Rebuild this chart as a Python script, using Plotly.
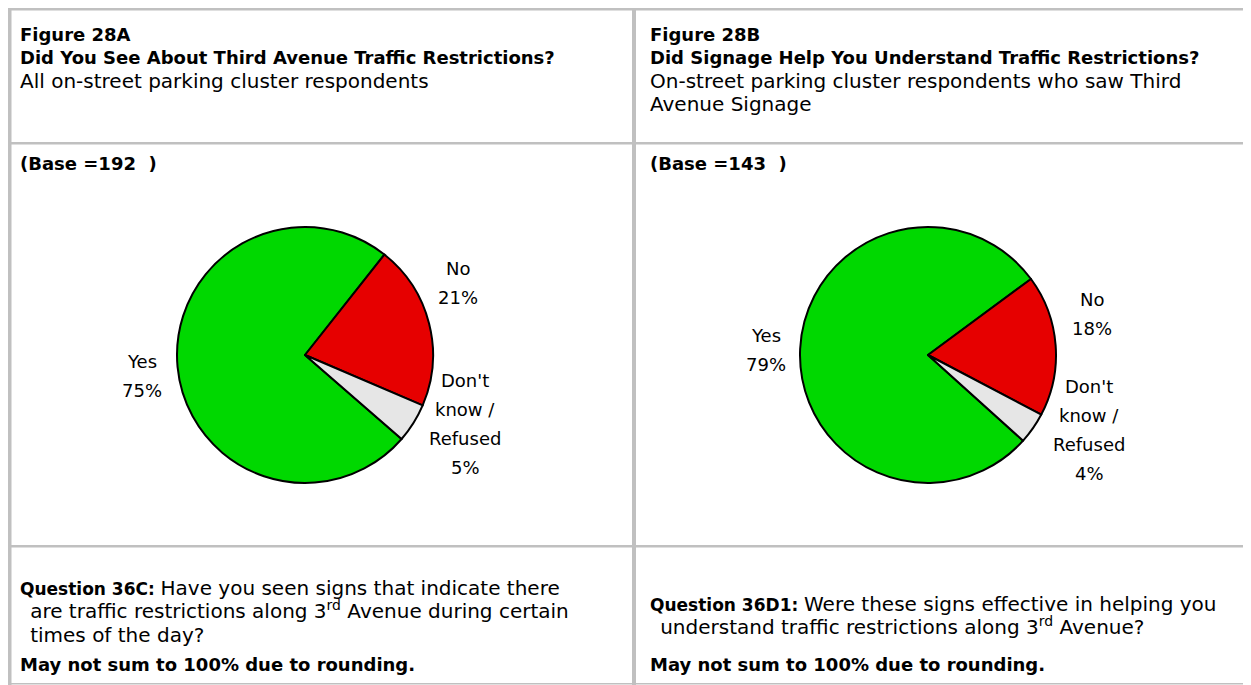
import plotly.graph_objects as go

# page is rendered with an 8px body margin -> figure is offset by 8px
OFF = 8
W, H = 1243, 677
FONT = "DejaVu Sans"

# ---- data ----
categories = ["Yes", "No", "Don't know / Refused"]
label_lines = [["Yes"], ["No"], ["Don't", "know /", "Refused"]]
values_a = [75, 21, 5]
values_b = [79, 18, 4]
base_a = 192
base_b = 143
slice_colors = ["#00d800", "#e60000", "#e6e6e6"]

title_a = ["Figure 28A", "Did You See About Third Avenue Traffic Restrictions?"]
sub_a = ["All on-street parking cluster respondents"]
title_b = ["Figure 28B", "Did Signage Help You Understand Traffic Restrictions?"]
sub_b = ["On-street parking cluster respondents who saw Third", "Avenue Signage"]

q_a_label = "Question 36C:"
q_a_lines = ["Have you seen signs that indicate there",
             "are traffic restrictions along 3<sup>rd</sup> Avenue during certain",
             "times of the day?"]
q_b_label = "Question 36D1:"
q_b_lines = ["Were these signs effective in helping you",
             "understand traffic restrictions along 3<sup>rd</sup> Avenue?"]
note = "May not sum to 100% due to rounding."

# ---- layout (page pixel positions) ----
pie_a = dict(cx=305, cy=355, r=128, rot=131,
             lab=[(142, 361), (458, 268), (465, 380)])
pie_b = dict(cx=928, cy=355, r=128, rot=132,
             lab=[(766, 335), (1092, 299), (1089, 386)])
LAB_SP = 29
REG, BOLD, LABS, QBOLD = 20, 18, 18, 17
BLOCK = 18  # base size of multi-line blocks -> line spacing 1.3*18


def fx(x):
    return (x - OFF) / W


def fy(y):
    return 1 - (y - OFF) / H


fig = go.Figure()
ann = []


def txt(x, y, s, size=REG, anchor="left"):
    ann.append(dict(x=fx(x), y=fy(y), xref="paper", yref="paper",
                    text=s, showarrow=False, xanchor=anchor, yanchor="middle",
                    align=anchor, font=dict(family=FONT, size=size, color="black")))


def span(s, size):
    return "<span style='font-size:%gpx'>%s</span>" % (size, s)


def add_pie(values, p):
    cx, cy, r = p["cx"], p["cy"], p["r"]
    fig.add_trace(go.Pie(
        labels=categories, values=values, textinfo="none",
        sort=False, direction="clockwise", rotation=p["rot"],
        marker=dict(colors=slice_colors, line=dict(color="black", width=2)),
        domain=dict(x=[fx(cx - r), fx(cx + r)], y=[fy(cy + r), fy(cy - r)]),
        showlegend=False, automargin=False, hoverinfo="label+value",
    ))
    for i, (lx, ly) in enumerate(p["lab"]):
        lines = label_lines[i] + ["%d%%" % values[i]]
        for j, s in enumerate(lines):
            txt(lx, ly + LAB_SP * j, s, size=LABS, anchor="center")


add_pie(values_a, pie_a)
add_pie(values_b, pie_b)

SP = 1.3 * BLOCK

for xo, title, sub, base in [(18, title_a, sub_a, base_a), (648, title_b, sub_b, base_b)]:
    lines = ["<b>%s</b>" % t for t in title] + [span(s, REG) for s in sub]
    center = 35 + (len(lines) - 1) * SP / 2
    txt(xo, center, "<br>".join(lines), size=BLOCK)
    txt(xo, 163, "<b>(Base =%d  )</b>" % base, size=BOLD)

INDENT = span("\u00a0\u00a0", 16)


def question_block(x, first, label, lines):
    out = ["<b>%s</b> %s" % (span(label, QBOLD), span(lines[0], REG))]
    out += [INDENT + span(s, REG) for s in lines[1:]]
    center = first + (len(out) - 1) * SP / 2
    txt(x, center, "<br>".join(out), size=BLOCK)


question_block(18, 588, q_a_label, q_a_lines)
txt(18, 664, "<b>%s</b>" % note, size=BOLD)

question_block(648, 604, q_b_label, q_b_lines)
txt(648, 664, "<b>%s</b>" % note, size=BOLD)

GRAY = "#c0c0c0"
shapes = []


def rect(x0, y0, x1, y1):
    shapes.append(dict(type="rect", xref="paper", yref="paper",
                       x0=fx(x0), x1=fx(x1), y0=fy(y1), y1=fy(y0),
                       fillcolor=GRAY, line=dict(width=0), layer="below"))


rect(8, 8, 1251, 10.5)      # top border
rect(8, 8, 11.5, 685)       # left border
rect(632, 8, 636, 685)      # middle divider
rect(8, 142, 1251, 144.5)   # header line
rect(8, 545, 1251, 547.5)   # footer line
rect(8, 683, 1251, 684.5)   # bottom line

fig.update_layout(
    width=W, height=H, margin=dict(l=0, r=0, t=0, b=0),
    paper_bgcolor="white", plot_bgcolor="white",
    annotations=ann, shapes=shapes,
    font=dict(family=FONT, color="black"),
)

fig.write_html("out.html")
